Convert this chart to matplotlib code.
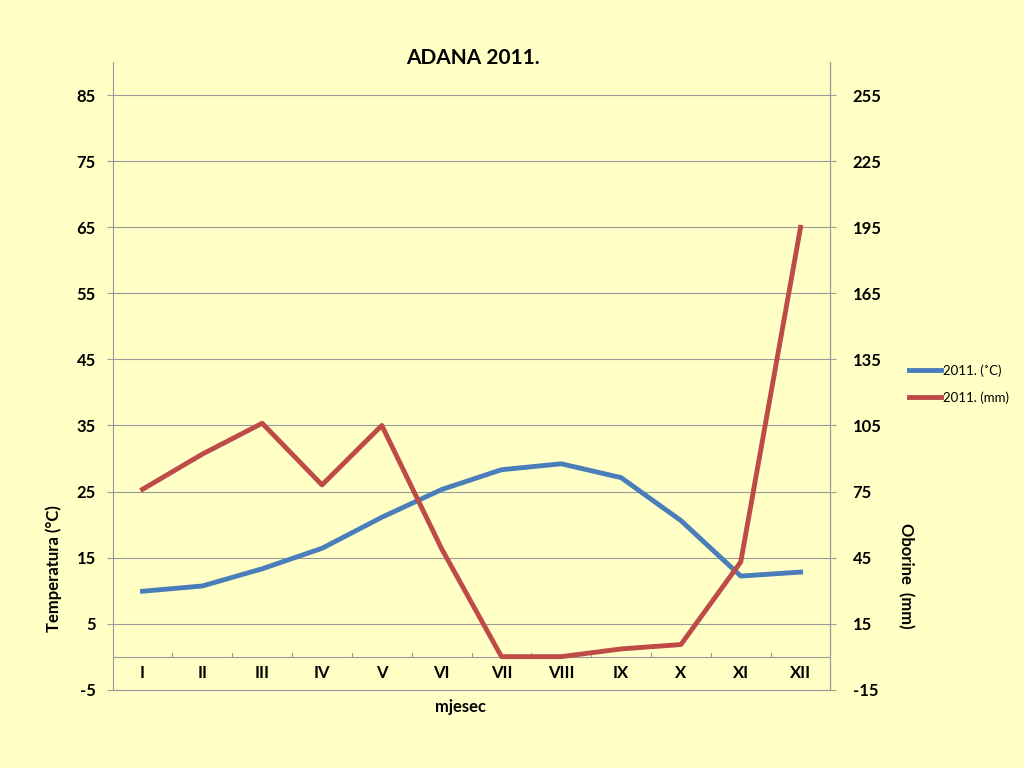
import matplotlib.pyplot as plt

# Monthly data, Adana 2011
months = ['I', 'II', 'III', 'IV', 'V', 'VI', 'VII', 'VIII', 'IX', 'X', 'XI', 'XII']
temp_c = [9.9, 10.7, 13.3, 16.4, 21.1, 25.3, 28.3, 29.2, 27.1, 20.6, 12.2, 12.8]
precip_mm = [76, 92, 106, 78, 105, 49, 0, 0, 3.5, 5.5, 43, 195]

left_ticks = [-5, 5, 15, 25, 35, 45, 55, 65, 75, 85]
right_ticks = [-15, 15, 45, 75, 105, 135, 165, 195, 225, 255]

bg = '#ffffc6'
grid_col = '#9a9a9a'
plt.rcParams['font.family'] = ['Lato', 'DejaVu Sans']

fig = plt.figure(figsize=(10.24, 7.68), dpi=100, facecolor=bg)
ax = fig.add_axes([0.110, 0.102, 0.701, 0.817])
ax.set_facecolor(bg)
x = list(range(len(months)))

ax.set_xlim(-0.5, 11.5)
ax.set_ylim(-5, 90)
ax.set_yticks(left_ticks)
ax.set_yticklabels([str(t) for t in left_ticks], fontsize=12, fontweight='bold')
ax.yaxis.grid(True, color=grid_col, linewidth=0.8)
ax.set_axisbelow(True)
ax.tick_params(axis='y', length=4, color=grid_col, pad=8)
ax.set_xticks([])

ax.spines['top'].set_visible(False)
for side in ['left', 'right', 'bottom']:
    ax.spines[side].set_color(grid_col)
    ax.spines[side].set_linewidth(0.8)

# zero line with category ticks
ax.axhline(0, color=grid_col, linewidth=0.8)
for b in [i + 0.5 for i in range(11)]:
    ax.plot([b, b], [0, 0.6], color=grid_col, linewidth=0.8)
for i, m in enumerate(months):
    ax.text(i, -2.5, m, ha='center', va='center', fontsize=12, fontweight='bold')

ax2 = ax.twinx()
ax2.set_ylim(-15, 270)
ax2.set_yticks(right_ticks)
ax2.set_yticklabels([str(t) for t in right_ticks], fontsize=12, fontweight='bold')
ax2.tick_params(axis='y', length=4, color=grid_col, pad=12)
for side in ['top', 'left', 'bottom']:
    ax2.spines[side].set_visible(False)
ax2.spines['right'].set_color(grid_col)
ax2.spines['right'].set_linewidth(0.8)

l1, = ax.plot(x, temp_c, color='#4a7ebb', linewidth=3.5, label='2011. (˚C)', zorder=3)
l2, = ax2.plot(x, precip_mm, color='#be4b48', linewidth=3.5, label='2011. (mm)', zorder=3)

fig.text(0.462, 0.925, 'ADANA 2011.', ha='center', va='center', fontsize=15, fontweight='bold')
fig.text(0.450, 0.079, 'mjesec', ha='center', va='center', fontsize=12, fontweight='bold')
fig.text(0.052, 0.26, 'Temperatura (°C)', ha='center', va='center', rotation=90,
         fontsize=12, fontweight='bold')
fig.text(0.885, 0.25, 'Oborine  (mm)', ha='center', va='center', rotation=-90,
         fontsize=12, fontweight='bold')

fig.legend(handles=[l1, l2], loc='center left', bbox_to_anchor=(0.876, 0.5), frameon=False,
           fontsize=9.5, handlelength=2.4, handletextpad=0.15, labelspacing=1.1)

plt.savefig('out.png', dpi=100, facecolor=bg)
